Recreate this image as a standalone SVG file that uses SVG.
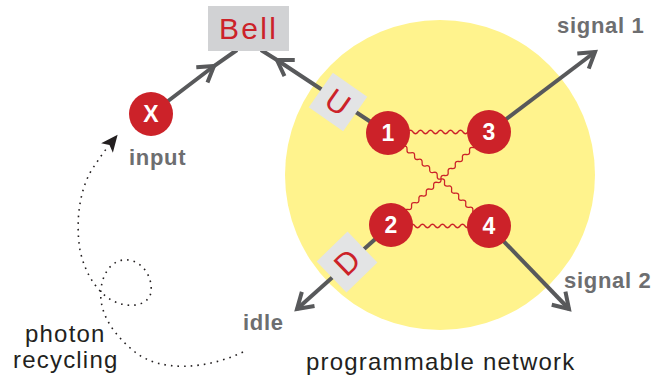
<svg xmlns="http://www.w3.org/2000/svg" width="655" height="380" viewBox="0 0 655 380">
<style>
.ln{fill:none;stroke:#58595b;stroke-width:4}
.wave{fill:none;stroke:#cc2229;stroke-width:1.3}
.node{fill:#cc2229}
.num{font-family:"Liberation Sans",Arial,sans-serif;font-weight:bold;font-size:23px;fill:#fff;text-anchor:middle}
.gl{font-family:"Liberation Sans",Arial,sans-serif;font-weight:bold;font-size:22px;fill:#6d6e70;letter-spacing:0.7px}
.dl{font-family:"Liberation Sans",Arial,sans-serif;font-size:24px;fill:#231f20;letter-spacing:1.2px}
.rl{font-family:"Liberation Sans",Arial,sans-serif;fill:#cc2229}
.box{fill:#e3e4e5}
</style>
<defs>
<marker id="chev" markerUnits="userSpaceOnUse" markerWidth="40" markerHeight="40" orient="auto" overflow="visible">
<path d="M-15,-9.5 L0,0 L-15,9.5" fill="none" stroke="#58595b" stroke-width="4"/>
</marker>
<marker id="tri" markerUnits="userSpaceOnUse" markerWidth="40" markerHeight="40" orient="auto" overflow="visible">
<path d="M17,0 L0,-7.5 L4,0 L0,7.5 z" fill="#231f20"/>
</marker>
<path id="w50" d="M0,0 q2.5,-3.5 5,0 t5,0 t5,0 t5,0 t5,0 t5,0 t5,0 t5,0 t5,0 t5,0"/>
<path id="w60" d="M0,0 q2.5,-3.5 5,0 t5,0 t5,0 t5,0 t5,0 t5,0 t5,0 t5,0 t5,0 t5,0 t5,0 t5,0"/>
</defs>

<g id="network-area">
<circle cx="440" cy="175" r="155" fill="#fff38d"/>
</g>

<g id="connectors">
<polyline class="ln" points="151,114 214,66 237,50" marker-mid="url(#chev)"/>
<polyline class="ln" points="389,134 277,60 261,50" marker-mid="url(#chev)"/>
<line class="ln" x1="489" y1="132" x2="595" y2="52" marker-end="url(#chev)"/>
<line class="ln" x1="489" y1="226" x2="569" y2="309" marker-end="url(#chev)"/>
<line class="ln" x1="391" y1="225" x2="297" y2="309" marker-end="url(#chev)"/>
<g class="wave">
<use href="#w60" transform="translate(408,132)"/>
<use href="#w60" transform="translate(410,226)"/>
<use href="#w50" transform="translate(441,179) rotate(221)"/>
<use href="#w50" transform="translate(441,179) rotate(-44.4)"/>
<use href="#w50" transform="translate(441,179) rotate(137.4)"/>
<use href="#w50" transform="translate(441,179) rotate(45)"/>
</g>
<path d="M243,352 C205,370 160,372 135,352 C115,336 103,318 101,300 C99,280 108,262 123,260 C140,258 153,275 151,292 C149,305 132,308 118,303 C100,297 85,275 80,250 C75,220 80,185 95,165 C99,159 103,153 107,148" fill="none" stroke="#231f20" stroke-width="1.6" stroke-dasharray="1.6 5" marker-end="url(#tri)"/>
</g>

<g id="bell">
<rect x="208" y="6" width="81" height="45" fill="#d1d2d4"/>
<text class="rl" x="219" y="39" font-size="30" letter-spacing="2.3">Bell</text>
</g>

<g id="U">
<g transform="translate(338,102) rotate(35)">
<rect class="box" x="-21" y="-21" width="42" height="42"/>
<text class="rl" x="0" y="11" font-size="31" text-anchor="middle">U</text>
</g>
</g>

<g id="D">
<g transform="translate(347,262) rotate(-44)">
<rect class="box" x="-21.5" y="-21.5" width="43" height="43"/>
<text class="rl" x="0" y="11" font-size="31" text-anchor="middle">D</text>
</g>
</g>

<g id="nodeX">
<circle class="node" cx="151" cy="114" r="22"/>
<text class="num" x="151" y="122" font-size="22">X</text>
</g>
<g id="node1">
<circle class="node" cx="388" cy="133" r="22"/>
<text class="num" x="388" y="141">1</text>
</g>
<g id="node3">
<circle class="node" cx="489" cy="132" r="22"/>
<text class="num" x="489" y="140">3</text>
</g>
<g id="node2">
<circle class="node" cx="391" cy="225" r="22"/>
<text class="num" x="391" y="233">2</text>
</g>
<g id="node4">
<circle class="node" cx="489" cy="226" r="22"/>
<text class="num" x="489" y="234">4</text>
</g>

<g id="labels">
<text class="gl" x="129" y="165">input</text>
<text class="gl" x="557" y="33">signal 1</text>
<text class="gl" x="564" y="288">signal 2</text>
<text class="gl" x="243" y="330">idle</text>
<text class="dl" x="25" y="342">photon</text>
<text class="dl" x="13" y="368">recycling</text>
<text class="dl" x="306" y="370">programmable network</text>
</g>
</svg>
